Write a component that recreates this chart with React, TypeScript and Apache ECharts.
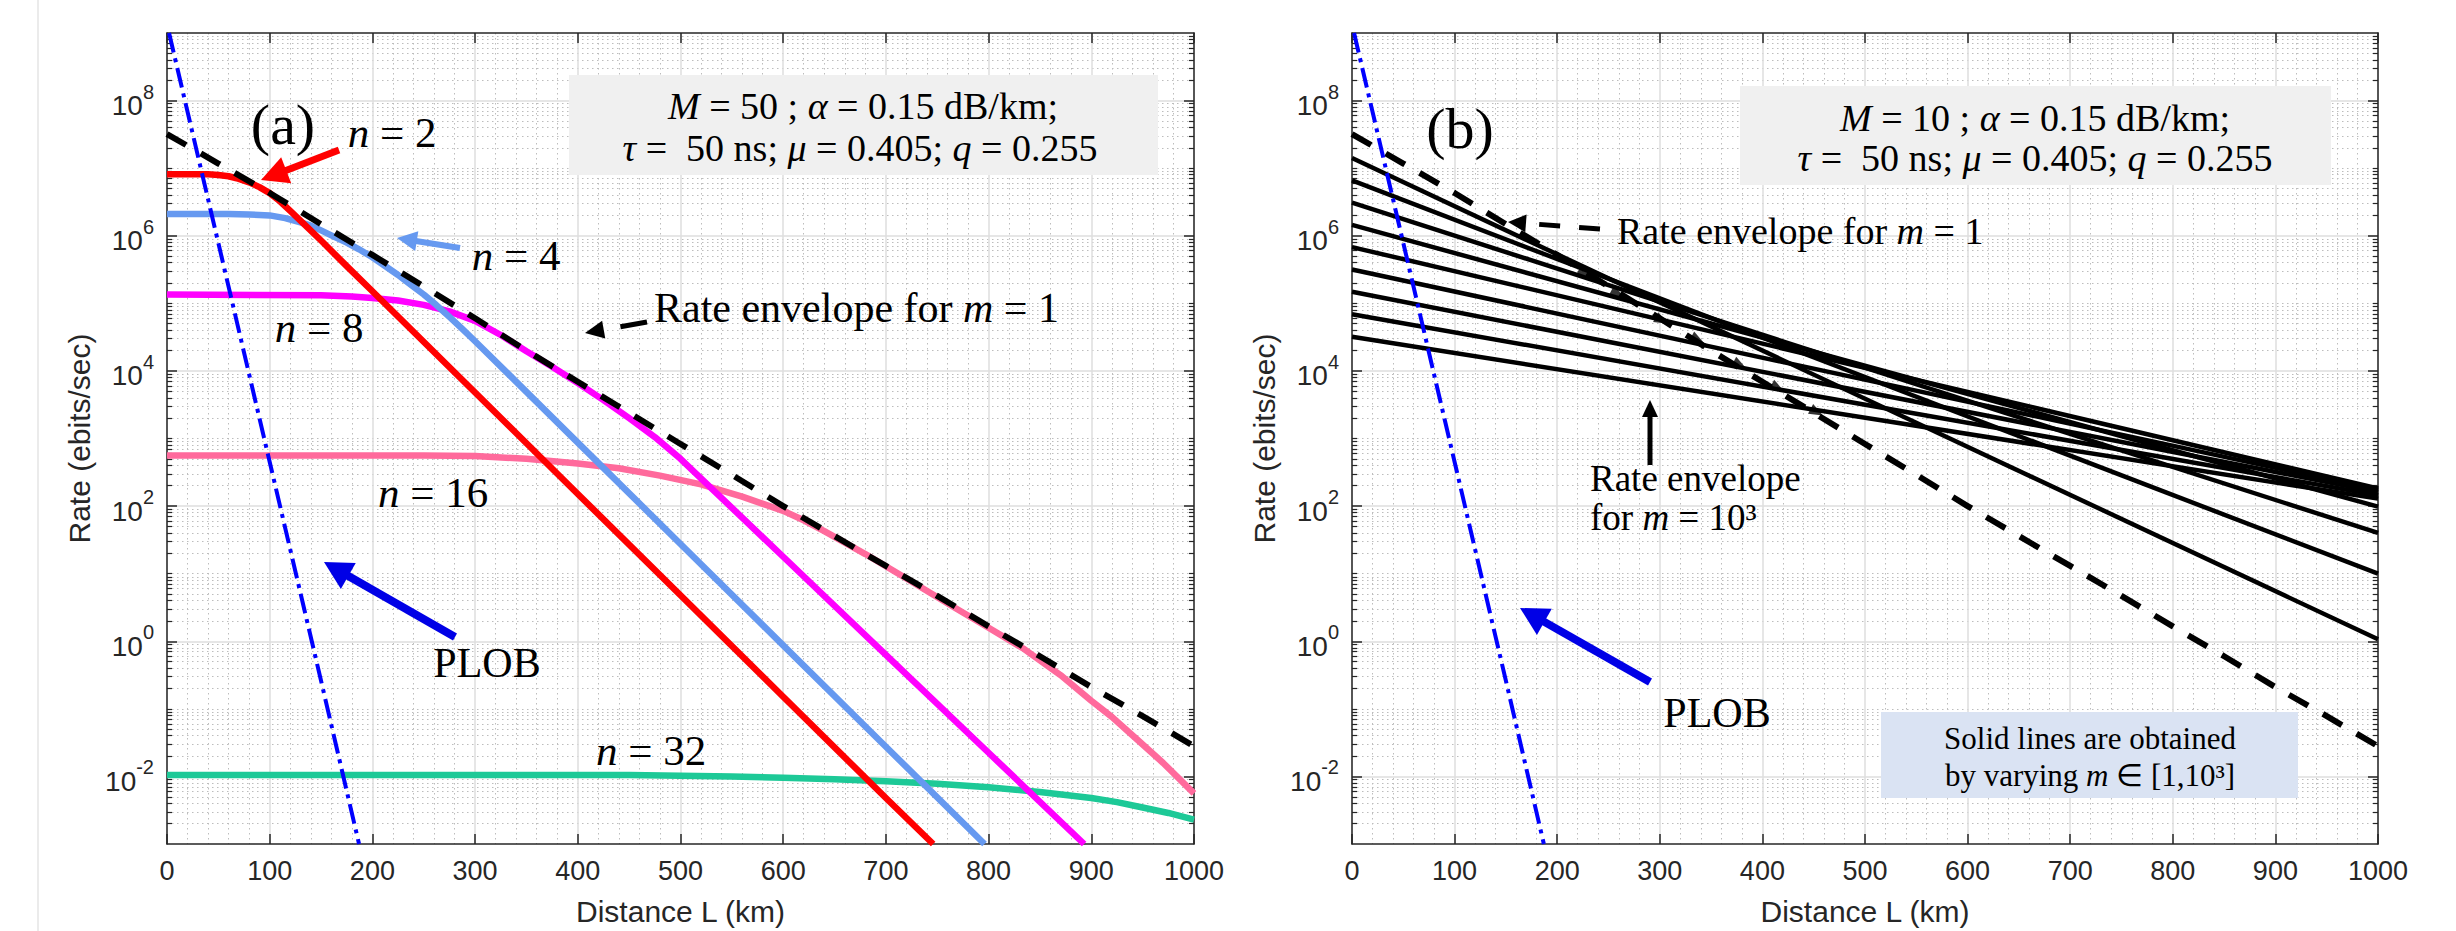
import React, { useEffect, useRef } from 'react';
import * as echarts from 'echarts';

const SANS = '"Liberation Sans", Arial, Helvetica, sans-serif';
const SERIF = '"Liberation Serif", "Times New Roman", serif';

// ---------- axes ----------
const X_MIN = 0;
const X_MAX = 1000;
const X_STEP = 100;
const Y_MIN_EXP = -3;
const Y_MAX_EXP = 9;
const Y_LABEL_EXPS = [-2, 0, 2, 4, 6, 8];
const MINOR_MULTS = [2, 3, 4, 5, 6, 7, 8, 9];

// ---------- data: [distance L (km), rate (ebits/sec)] ----------
const PLOB = [[2, 1e9], [50, 7.8e5], [100, 4.5e2], [150, 0.26], [187, 1e-3]];

const ENVELOPE_M1 = [
  [0, 3.2e7], [50, 1.17e7], [100, 4.3e6], [150, 1.48e6], [200, 5.2e5], [250, 1.78e5],
  [300, 6.0e4], [350, 2.0e4], [400, 6.9e3], [450, 2.4e3], [500, 8.3e2], [550, 2.9e2],
  [600, 1.0e2], [650, 36], [700, 13], [750, 4.7], [800, 1.66], [850, 0.6], [900, 0.21],
  [950, 7.8e-2], [1000, 2.8e-2],
];

const N2 = [
  [0, 8.13e6], [40, 8.13e6], [50, 7.94e6], [60, 7.59e6], [70, 6.92e6], [80, 6.17e6], [90, 5.25e6],
  [100, 4.27e6], [110, 3.24e6], [120, 2.34e6], [135, 1.41e6], [150, 8.5e5], [175, 3.55e5],
  [200, 1.51e5], [300, 4.79e3], [400, 151], [500, 4.79], [600, 0.151], [700, 4.79e-3], [746, 1e-3],
];
const N4 = [
  [0, 2.09e6], [60, 2.09e6], [80, 2.07e6], [100, 2.0e6], [115, 1.82e6], [130, 1.58e6], [140, 1.41e6],
  [150, 1.2e6], [162, 9.8e5], [175, 7.9e5], [187, 6.3e5], [200, 4.8e5], [212, 3.6e5], [225, 2.63e5],
  [237, 1.9e5], [250, 1.35e5], [262, 9.5e4], [275, 6.3e4], [287, 4.27e4], [300, 2.75e4],
  [350, 4.9e3], [400, 870], [500, 27.5], [600, 0.87], [700, 2.75e-2], [796, 1e-3],
];
const N8 = [
  [0, 1.35e5], [150, 1.32e5], [180, 1.26e5], [200, 1.2e5], [225, 1.1e5], [250, 9.5e4], [275, 7.6e4],
  [300, 5.5e4], [325, 3.4e4], [350, 1.95e4], [375, 1.15e4], [400, 6.6e3], [425, 3.7e3], [450, 2.0e3],
  [475, 1.05e3], [500, 5.0e2], [600, 17.8], [700, 0.63], [800, 2.24e-2], [893, 1e-3],
];
const N16 = [
  [0, 562], [250, 562], [300, 550], [350, 501], [400, 427], [440, 363], [480, 282], [520, 209],
  [560, 138], [600, 85], [620, 61.7], [640, 42.7], [660, 28.8], [680, 19.5], [700, 12.9], [720, 8.5],
  [745, 5.0], [770, 2.95], [800, 1.58], [835, 0.76], [870, 0.316], [900, 0.132], [920, 7.6e-2],
  [943, 3.7e-2], [970, 1.58e-2], [1000, 5.6e-3],
];
const N32 = [
  [0, 1.05e-2], [450, 1.05e-2], [550, 1.0e-2], [600, 9.55e-3], [650, 9.1e-3], [700, 8.5e-3],
  [750, 7.76e-3], [800, 6.9e-3], [850, 5.9e-3], [900, 4.8e-3], [925, 4.17e-3], [950, 3.47e-3],
  [975, 2.88e-3], [1000, 2.3e-3],
];

// panel (b): solid lines obtained by varying m, rate at L = 0 and L = 1000 km
const M_LINE_START = [1.41e7, 6.6e6, 3.1e6, 1.45e6, 6.8e5, 3.16e5, 1.48e5, 6.9e4, 3.2e4];
const M_LINE_END = [1.07, 10, 40, 98, 182, 174, 162, 145, 129];
// small arrowhead marks sitting on the (b) lines
const M_LINE_MARKS = [[227, 2.8e5], [259, 1.4e5], [302, 5.6e4], [337, 2.9e4], [378, 1.23e4], [415, 5.6e3], [453, 2.45e3]];

// ---------- styles ----------
const AX = '#262626';
const GRID = '#dedede';
const MINOR = '#bdbdbd';

const Y_MINOR: number[] = [];
for (let k = Y_MIN_EXP; k < Y_MAX_EXP; k++) {
  if (k % 2 !== 0 && k > Y_MIN_EXP) Y_MINOR.push(k);
  for (const m of MINOR_MULTS) Y_MINOR.push(+(k + Math.log10(m)).toFixed(6));
}

const toLog = (d: number[][]) => d.map(([x, r]) => [x, Math.log10(r)]);

function xAxes(gridIndex: number) {
  return [
    {
      type: 'value', gridIndex, position: 'bottom', min: X_MIN, max: X_MAX, interval: X_STEP,
      axisLine: { show: true, onZero: false, lineStyle: { color: AX, width: 1.5 } },
      axisTick: { show: true, inside: true, length: 10, lineStyle: { color: AX, width: 1.5 } },
      axisLabel: { show: true, margin: 13, fontSize: 27, color: AX, fontFamily: SANS, formatter: (v: number) => String(v) },
      splitLine: { show: true, lineStyle: { color: GRID, width: 1.5 } },
      minorTick: { show: false, splitNumber: 5 },
      minorSplitLine: { show: true, lineStyle: { color: MINOR, width: 1, type: [1.5, 3.5] } },
      name: 'Distance L (km)', nameLocation: 'middle', nameGap: 52,
      nameTextStyle: { fontSize: 30, color: AX, fontFamily: SANS },
    },
    {
      type: 'value', gridIndex, position: 'top', min: X_MIN, max: X_MAX, interval: X_STEP,
      axisLine: { show: true, onZero: false, lineStyle: { color: AX, width: 1.5 } },
      axisTick: { show: true, inside: true, length: 10, lineStyle: { color: AX, width: 1.5 } },
      axisLabel: { show: false }, splitLine: { show: false },
    },
  ];
}

function yAxes(gridIndex: number) {
  const base = { type: 'value', gridIndex, min: Y_MIN_EXP, max: Y_MAX_EXP, interval: 1 };
  return [
    {
      ...base, position: 'left',
      axisLine: { show: true, onZero: false, lineStyle: { color: AX, width: 1.5 } },
      axisTick: { show: true, inside: true, length: 10, customValues: Y_LABEL_EXPS, lineStyle: { color: AX, width: 1.5 } },
      axisLabel: {
        show: true, margin: 13, customValues: Y_LABEL_EXPS,
        formatter: (v: number) => `{b|10}{s|${v}}`,
        rich: {
          b: { fontSize: 28, fontFamily: SANS, color: AX, verticalAlign: 'bottom', lineHeight: 38 },
          s: { fontSize: 20, fontFamily: SANS, color: AX, verticalAlign: 'top', lineHeight: 20 },
        },
      },
      splitLine: { show: true, lineStyle: { color: GRID, width: 1.5 } },
      name: 'Rate (ebits/sec)', nameLocation: 'middle', nameGap: 73,
      nameTextStyle: { fontSize: 30, color: AX, fontFamily: SANS },
    },
    {
      ...base, position: 'left',
      axisLine: { show: false, onZero: false },
      axisTick: { show: true, inside: true, length: 5, customValues: Y_MINOR, lineStyle: { color: AX, width: 1.2 } },
      axisLabel: { show: false },
      splitLine: { show: true, lineStyle: { color: MINOR, width: 1, type: [1.5, 3.5] } },
    },
    {
      ...base, position: 'right',
      axisLine: { show: true, onZero: false, lineStyle: { color: AX, width: 1.5 } },
      axisTick: { show: true, inside: true, length: 10, customValues: Y_LABEL_EXPS, lineStyle: { color: AX, width: 1.5 } },
      axisLabel: { show: false }, splitLine: { show: false },
    },
    {
      ...base, position: 'right',
      axisLine: { show: false, onZero: false },
      axisTick: { show: true, inside: true, length: 5, customValues: Y_MINOR, lineStyle: { color: AX, width: 1.2 } },
      axisLabel: { show: false }, splitLine: { show: false },
    },
  ];
}

function line(name: string, data: number[][], xi: number, yi: number, color: string, width: number, type: any = 'solid', z = 3) {
  return {
    type: 'line', name, xAxisIndex: xi, yAxisIndex: yi, data: toLog(data),
    symbol: 'none', smooth: false, silent: true, z,
    lineStyle: { color, width, type, cap: 'butt', join: 'round' },
  };
}

// ---------- annotations (pixel space) ----------
function arrow(x1: number, y1: number, x2: number, y2: number, color: string, width: number, head: number, hw: number, dash?: number[]) {
  const dx = x2 - x1, dy = y2 - y1, len = Math.hypot(dx, dy);
  const ux = dx / len, uy = dy / len;
  const bx = x2 - ux * head, by = y2 - uy * head;
  const px = -uy, py = ux;
  return [
    { type: 'line', z: 60, shape: { x1, y1, x2: bx + ux * 1, y2: by + uy * 1 }, style: { stroke: color, lineWidth: width, lineDash: dash, lineCap: 'butt' } },
    { type: 'polygon', z: 60, shape: { points: [[x2, y2], [bx + px * hw, by + py * hw], [bx - px * hw, by - py * hw]] }, style: { fill: color } },
  ];
}

function txt(x: number, y: number, text: string, size: number, align = 'center') {
  return {
    type: 'text', x, y, z: 70,
    style: {
      text, fill: '#000', fontSize: size, fontFamily: SERIF, align, verticalAlign: 'middle',
      rich: {
        i: { fontSize: size, fontFamily: SERIF, fontStyle: 'italic', fill: '#000' },
        r: { fontSize: size, fontFamily: SERIF, fill: '#000' },
      },
    },
  };
}

function buildGraphic() {
  return [
    { type: 'line', z: 1, shape: { x1: 38, y1: 0, x2: 38, y2: 931 }, style: { stroke: '#e4e4e4', lineWidth: 1.5 } },
    // panel (a)
    { type: 'rect', z: 1, shape: { x: 569, y: 75, width: 589, height: 100 }, style: { fill: '#f0f0f0' } },
    txt(863, 106, '{i|M} = 50 ; {i|α} = 0.15 dB/km;', 38),
    txt(860, 148, '{i|τ} =  50 ns; {i|μ} = 0.405; {i|q} = 0.255', 38),
    txt(283, 124, '(a)', 58),
    txt(392, 132, '{i|n} = 2', 43),
    txt(516, 255, '{i|n} = 4', 43),
    txt(319, 327, '{i|n} = 8', 43),
    txt(433, 492, '{i|n} = 16', 43),
    txt(651, 750, '{i|n} = 32', 43),
    txt(487, 663, 'PLOB', 42),
    txt(654, 308, '{r|Rate envelope for }{i|m}{r| = 1}', 42, 'left'),
    ...arrow(339, 150, 261, 180, '#ff0000', 7, 27, 14),
    ...arrow(460, 248, 397, 238, '#6699f0', 6, 20, 10),
    ...arrow(647, 322, 585, 333, '#000', 5, 19, 9, [27, 18]),
    ...arrow(455, 637, 324, 562, '#0000e6', 8, 28, 15),
    // panel (b)
    { type: 'rect', z: 1, shape: { x: 1740, y: 86, width: 591, height: 99 }, style: { fill: '#f0f0f0' } },
    txt(2035, 118, '{i|M} = 10 ; {i|α} = 0.15 dB/km;', 38),
    txt(2035, 158, '{i|τ} =  50 ns; {i|μ} = 0.405; {i|q} = 0.255', 38),
    txt(1460, 128, '(b)', 58),
    txt(1617, 231, '{r|Rate envelope for }{i|m}{r| = 1}', 38, 'left'),
    txt(1590, 478, 'Rate envelope', 37, 'left'),
    txt(1590, 517, '{r|for }{i|m}{r| = 10³}', 37, 'left'),
    txt(1717, 713, 'PLOB', 42),
    ...arrow(1600, 229, 1508, 222, '#000', 5, 18, 9, [21, 19]),
    ...arrow(1650, 465, 1650, 400, '#000', 5, 17, 8),
    ...arrow(1650, 682, 1520, 608, '#0000e6', 8, 28, 15),
    { type: 'rect', z: 1, shape: { x: 1881, y: 712, width: 417, height: 86 }, style: { fill: '#dae3f3' } },
    txt(2090, 738, 'Solid lines are obtained', 31),
    txt(2090, 775, '{r|by varying }{i|m}{r| ∈ [1,10³]}', 31),
  ];
}

function buildOption() {
  const series: any[] = [
    line('n = 32', N32, 0, 0, '#1dc997', 6.5),
    line('n = 16', N16, 0, 0, '#ff6a9c', 6.5),
    line('n = 8', N8, 0, 0, '#ff00ff', 6.5),
    line('n = 4', N4, 0, 0, '#6699f0', 6.5),
    line('n = 2', N2, 0, 0, '#ff0000', 6.5),
    line('Rate envelope m = 1', ENVELOPE_M1, 0, 0, '#000', 6, [22, 17], 5),
    line('PLOB', PLOB, 0, 0, '#0000ff', 4, [20, 6, 4, 6], 6),
  ];
  M_LINE_START.forEach((s, i) => {
    series.push(line(`m line ${i + 1}`, [[X_MIN, s], [X_MAX, M_LINE_END[i]]], 2, 4, '#000', 4.5, 'solid', 3));
  });
  series.push({
    type: 'scatter', name: 'marks', xAxisIndex: 2, yAxisIndex: 4, data: toLog(M_LINE_MARKS),
    symbol: 'triangle', symbolSize: [11, 14], symbolRotate: -118, silent: true, z: 4,
    itemStyle: { color: '#000' },
  });
  series.push(line('Rate envelope m = 1 (b)', ENVELOPE_M1, 2, 4, '#000', 6, [22, 17], 5));
  series.push(line('PLOB (b)', PLOB, 2, 4, '#0000ff', 4, [20, 6, 4, 6], 6));

  return {
    animation: false,
    backgroundColor: '#ffffff',
    grid: [
      { left: 167, top: 33, width: 1027, height: 811, containLabel: false },
      { left: 1352, top: 33, width: 1026, height: 811, containLabel: false },
    ],
    xAxis: [...xAxes(0), ...xAxes(1)],
    yAxis: [...yAxes(0), ...yAxes(1)],
    series,
    graphic: { elements: buildGraphic() },
  };
}

export default function App() {
  const ref = useRef<HTMLDivElement>(null);
  useEffect(() => {
    const el = ref.current!;
    const chart = echarts.init(el, undefined, { renderer: 'svg' });
    chart.setOption(buildOption() as any);
    return () => chart.dispose();
  }, []);
  return (
    <div
      ref={ref}
      style={{ position: 'absolute', left: 0, top: 0, width: 2456, height: 931, background: '#fff' }}
    />
  );
}
